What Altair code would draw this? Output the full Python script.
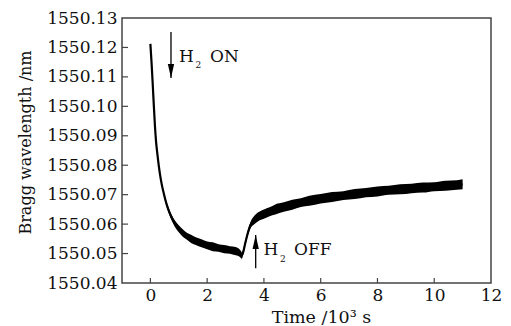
import altair as alt
import pandas as pd

# ---- data ----
time_ks = [0.0, 0.04, 0.08, 0.12, 0.16, 0.2, 0.25, 0.3, 0.35, 0.4, 0.47, 0.57, 0.65, 0.75, 0.86,
           1.0, 1.15, 1.3, 1.45, 1.6, 1.8, 2.0, 2.2, 2.4, 2.6, 2.8, 3.0, 3.1, 3.18, 3.22,
           3.27, 3.33, 3.4, 3.48, 3.56, 3.65, 3.8, 4.0, 4.2, 4.4, 4.7, 5.0, 5.3, 5.6, 6.0,
           6.4, 6.8, 7.2, 7.6, 8.0, 8.4, 8.8, 9.2, 9.6, 10.0, 10.4, 10.8, 11.0]
wavelength = [1550.1212, 1550.1150, 1550.1080, 1550.1005, 1550.0935, 1550.0880, 1550.0835,
              1550.0795, 1550.0762, 1550.0735, 1550.0705, 1550.0668, 1550.0645, 1550.0622,
              1550.0602, 1550.0584, 1550.0569, 1550.0558, 1550.0549, 1550.0542, 1550.0535,
              1550.0528, 1550.0523, 1550.0519, 1550.0515, 1550.0512, 1550.0508, 1550.0505,
              1550.0498, 1550.0493, 1550.0505, 1550.0530, 1550.0558, 1550.0585, 1550.0603,
              1550.0613, 1550.0625, 1550.0634, 1550.0642, 1550.0650, 1550.0658, 1550.0666,
              1550.0673, 1550.0679, 1550.0686, 1550.0692, 1550.0697, 1550.0702, 1550.0707,
              1550.0711, 1550.0715, 1550.0718, 1550.0721, 1550.0724, 1550.0727, 1550.0730,
              1550.0733, 1550.0735]
band_half = [0.0003, 0.0003, 0.0003, 0.0003, 0.0004, 0.0004, 0.0004, 0.0005, 0.0005, 0.0006,
             0.0007, 0.0008, 0.0009, 0.0010, 0.0011, 0.0012, 0.0013, 0.0012, 0.0014, 0.0013,
             0.0014, 0.0013, 0.0015, 0.0013, 0.0014, 0.0013, 0.0014, 0.0013, 0.0012, 0.0011,
             0.0009, 0.0009, 0.0009, 0.0010, 0.0012, 0.0014, 0.0015, 0.0016, 0.0015, 0.0017,
             0.0016, 0.0017, 0.0015, 0.0017, 0.0016, 0.0017, 0.0015, 0.0017, 0.0016, 0.0017,
             0.0015, 0.0017, 0.0016, 0.0017, 0.0015, 0.0017, 0.0016, 0.0017]

x_ticks = [0, 2, 4, 6, 8, 10, 12]
x_inner_ticks = [0, 2, 4, 6, 8, 10]
y_ticks = [1550.04, 1550.05, 1550.06, 1550.07, 1550.08, 1550.09, 1550.10, 1550.11, 1550.12, 1550.13]
y_inner_ticks = [1550.05, 1550.06, 1550.07, 1550.08, 1550.09, 1550.10, 1550.11, 1550.12]

# annotation arrows (time, start, tip)
arrow_t = [0.726, 3.71]
arrow_from = [1550.12525, 1550.04499]
arrow_tip = [1550.10962, 1550.05630]
arrow_dir = ["down", "up"]

# annotation text pieces
ann_text = ["H", "2", "ON", "H", "2", "OFF"]
ann_t = [1.008, 1.589, 2.100, 3.985, 4.566, 5.06]
ann_v = [1550.11506, 1550.11302, 1550.11506, 1550.04951, 1550.04730, 1550.04951]
ann_size = [17, 9, 17, 17, 9, 17]

W, H = 369, 265
FONT = "DejaVu Serif"
INK = "#111111"
FRAME = "#444444"

df = pd.DataFrame({
    "t": time_ks,
    "v": wavelength,
    "lo": [c - h for c, h in zip(wavelength, band_half)],
    "hi": [c + h for c, h in zip(wavelength, band_half)],
})

xs = alt.Scale(domain=[-1, 12], nice=False, zero=False)
ys = alt.Scale(domain=[1550.04, 1550.13], nice=False, zero=False)

x_axis = alt.Axis(values=x_ticks, title="Time /10³ s", labelFlush=False, labelPadding=4,
                  titleFontSize=17.5,
                  titleX=199, titleY=34, titleBaseline="middle", titleAlign="center")
y_axis = alt.Axis(values=y_ticks, format=".2f", title="Bragg wavelength /nm", labelPadding=5,
                  titleFontSize=16,
                  titleX=-97, titleY=124, titleAngle=270, titleBaseline="middle", titleAlign="center")


def X(field):
    return alt.X(field, scale=xs, axis=x_axis)


def Y(field):
    return alt.Y(field, scale=ys, axis=y_axis)


band = alt.Chart(df).mark_area(color="black", opacity=1, interpolate="monotone").encode(
    x=X("t:Q"), y=Y("lo:Q"), y2="hi:Q",
)

line = alt.Chart(df).mark_line(color="black", strokeWidth=2.2, interpolate="monotone").encode(
    x=X("t:Q"), y=Y("v:Q"),
)

xt = alt.Chart(pd.DataFrame({"t": x_inner_ticks})).mark_rule(color=FRAME, strokeWidth=1.2).encode(
    x=X("t:Q"), y=alt.value(H), y2=alt.value(H - 5),
)
yt = alt.Chart(pd.DataFrame({"v": y_inner_ticks})).mark_rule(color=FRAME, strokeWidth=1.2).encode(
    y=Y("v:Q"), x=alt.value(0), x2=alt.value(6),
)

arr_df = pd.DataFrame({"t": arrow_t, "v": arrow_from, "v2": arrow_tip, "dir": arrow_dir})
shafts = alt.Chart(arr_df).mark_rule(color="black", strokeWidth=1.3).encode(
    x=X("t:Q"), y=Y("v:Q"), y2="v2:Q",
)
head_down = alt.Chart(arr_df).transform_filter("datum.dir == 'down'").mark_point(
    shape="M0,0 L-0.45,-2 L0.45,-2 Z", filled=True, color="black", opacity=1, size=196, strokeWidth=0
).encode(x=X("t:Q"), y=Y("v2:Q"))
head_up = alt.Chart(arr_df).transform_filter("datum.dir == 'up'").mark_point(
    shape="M0,0 L-0.45,2 L0.45,2 Z", filled=True, color="black", opacity=1, size=196, strokeWidth=0
).encode(x=X("t:Q"), y=Y("v2:Q"))

ann_df = pd.DataFrame({"t": ann_t, "v": ann_v, "txt": ann_text, "s": ann_size})
texts = alt.Chart(ann_df).mark_text(align="left", baseline="alphabetic", font=FONT, color=INK).encode(
    x=X("t:Q"), y=Y("v:Q"),
    text="txt:N",
    size=alt.Size("s:Q", scale=None, legend=None),
)

chart = alt.layer(band, line, xt, yt, shafts, head_down, head_up, texts).properties(
    width=W, height=H,
    autosize=alt.AutoSizeParams(type="none"),
    padding={"left": 114, "top": 10, "right": 12, "bottom": 42},
    background="white",
).configure_view(
    stroke=FRAME, strokeWidth=1.5,
).configure_axis(
    domain=False, ticks=False, grid=False,
    labelFont=FONT, labelFontSize=17, labelColor=INK,
    titleFont=FONT, titleFontWeight="normal", titleColor=INK,
)

chart.save("out.html", embed_options={"renderer": "svg", "actions": False})
